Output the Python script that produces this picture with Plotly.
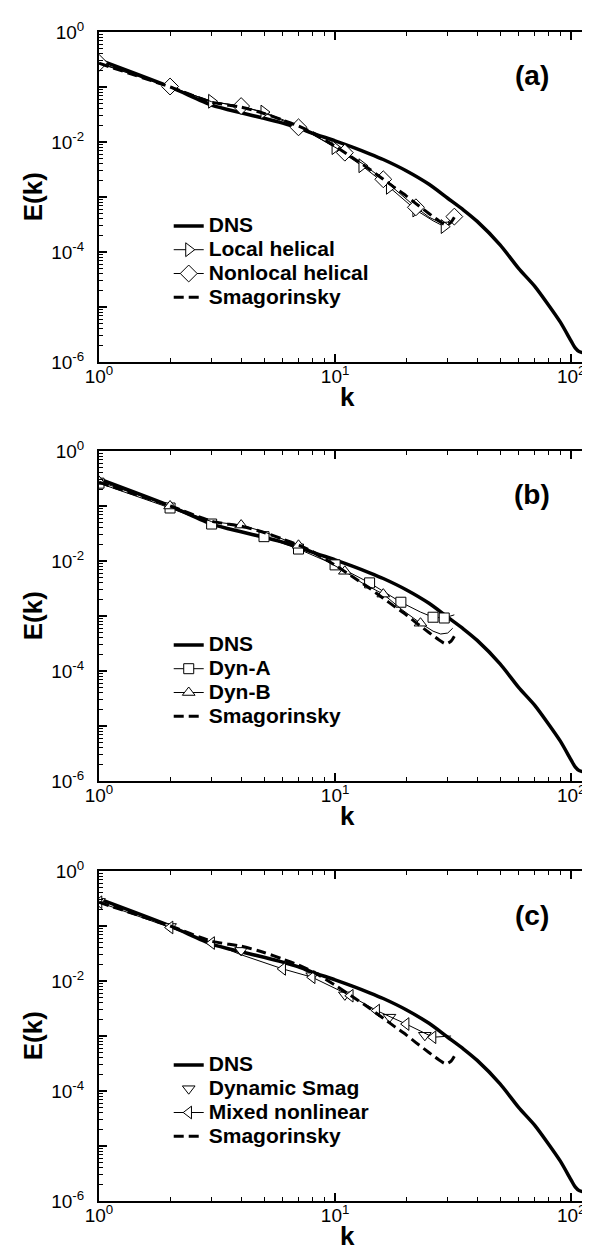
import plotly.graph_objects as go

# ---------------- data ----------------
k_dns = [1, 2, 3, 4, 5, 6, 7, 8, 10, 12, 14, 16, 20, 25, 30, 35, 40, 50, 60, 70, 80, 90,
         100, 104, 108, 112, 116, 120, 123, 126]
E_dns = [0.31, 0.10, 0.047, 0.034, 0.027, 0.022, 0.018, 0.0145, 0.0105, 0.0079, 0.0061,
         0.0048, 0.0030, 0.0017, 9.5e-4, 5.8e-4, 3.6e-4, 1.35e-4, 5.0e-5, 2.4e-5, 1.1e-5,
         5.3e-6, 2.4e-6, 1.8e-6, 1.55e-6, 1.5e-6, 1.8e-6, 2.7e-6, 3.8e-6, 5.6e-6]

k_smag = [1, 2, 3, 4, 5, 6, 7, 8, 10, 12, 14, 16, 18, 20, 22, 24, 26, 28, 29, 30, 31, 32]
E_smag = [0.27, 0.10, 0.053, 0.043, 0.033, 0.025, 0.0195, 0.0150, 0.0084, 0.0050, 0.0032,
          0.0021, 0.00145, 0.00105, 0.00076, 0.00057, 0.00044, 0.00035, 0.00032, 0.00032,
          0.00035, 0.00043]

# panel (a)
k_loc = [1, 2, 3, 4, 5, 7, 10, 13, 17, 22, 26, 29, 31]
E_loc = [0.27, 0.10, 0.055, 0.044, 0.035, 0.0195, 0.0079, 0.0037, 0.0015, 0.00058,
         0.00037, 0.00029, 0.00033]
mark_loc = [1, 3, 5, 10, 13, 17, 22, 29]

k_nl = [1, 2, 3, 4, 5, 7, 9, 11, 13, 16, 19, 22, 25, 28, 30, 32]
E_nl = [0.275, 0.102, 0.054, 0.045, 0.034, 0.0185, 0.0105, 0.0064, 0.0041, 0.0021,
        0.00112, 0.00065, 0.00043, 0.00034, 0.00035, 0.00044]
mark_nl = [1, 2, 4, 7, 11, 16, 22, 32]

# panel (b)
k_da = [1, 2, 3, 5, 7, 10, 14, 19, 23, 26, 29, 32]
E_da = [0.26, 0.092, 0.047, 0.0277, 0.0165, 0.0085, 0.0040, 0.00178, 0.00118, 0.00095,
        0.00092, 0.00105]
mark_da = [1, 2, 3, 5, 7, 10, 14, 19, 26, 29]

k_db = [1, 2, 3, 4, 5, 7, 9, 11, 13, 16, 19, 23, 26, 28, 30, 31.5]
E_db = [0.28, 0.10, 0.052, 0.045, 0.034, 0.0193, 0.0105, 0.0065, 0.0040, 0.0025, 0.00135,
        0.00074, 0.00053, 0.00047, 0.00049, 0.00060]
mark_db = [1, 2, 4, 7, 11, 16, 23]

# panel (c)
k_ds = [1, 2, 4, 8, 11, 17, 24]
E_ds = [0.28, 0.098, 0.036, 0.0125, 0.0056, 0.0022, 0.00103]
mark_ds = [1, 2, 4, 8, 11, 17, 24]

k_mx = [1, 2, 3, 4, 6, 8, 11.6, 15, 20, 26, 31]
E_mx = [0.27, 0.094, 0.049, 0.030, 0.0166, 0.0117, 0.0054, 0.0029, 0.00165, 0.00095, 0.0010]
mark_mx = [1, 2, 3, 6, 8, 11.6, 15, 20, 26]

x_major = [1, 10, 100]
x_major_text = ["10<sup>0</sup>", "10<sup>1</sup>", "10<sup>2</sup>"]
x_minor = [2, 3, 4, 5, 6, 7, 8, 9, 20, 30, 40, 50, 60, 70, 80, 90]
y_major = [1, 1e-1, 1e-2, 1e-3, 1e-4, 1e-5, 1e-6]
y_major_text = ["10<sup>0</sup>", " ", "10<sup>-2</sup>", " ", "10<sup>-4</sup>", " ",
                "10<sup>-6</sup>"]
y_minor = [m * 10.0 ** e for e in range(-6, 0) for m in range(2, 10)]

panel_labels = ["(a)", "(b)", "(c)"]
legend_names = [["DNS", "Local helical", "Nonlocal helical", "Smagorinsky"],
                ["DNS", "Dyn-A", "Dyn-B", "Smagorinsky"],
                ["DNS", "Dynamic Smag", "Mixed nonlinear", "Smagorinsky"]]

# ---------------- figure ----------------
FONT = "Liberation Sans, Arial, sans-serif"
W, H = 590, 1252
ML, MR, MT, MB = 91, 1, 24, 55
plot_w = W - ML - MR
plot_h = H - MT - MB


def pix_to_paper_y(py):
    return (H - MB - py) / plot_h


panel_tops = [24, 443, 863]
panel_h = 330
domains = [[pix_to_paper_y(t + panel_h), pix_to_paper_y(t)] for t in panel_tops]
domains[0][1] = 1.0

fig = go.Figure()


def axn(i):
    return "" if i == 0 else str(i + 1)


def lname(s):
    return '<span style="font-size:21px">%s</span>' % s


def add_dns(i, leg):
    fig.add_trace(go.Scatter(x=k_dns, y=E_dns, mode="lines", name=lname(legend_names[i][0]),
                             line=dict(color="black", width=3.5, shape="spline", smoothing=0.7),
                             xaxis="x" + axn(i), yaxis="y" + axn(i), legend=leg))


def add_smag(i, leg):
    fig.add_trace(go.Scatter(x=k_smag, y=E_smag, mode="lines", name=lname(legend_names[i][3]),
                             line=dict(color="black", width=3, dash="10px,5px", shape="spline",
                                       smoothing=0.6),
                             xaxis="x" + axn(i), yaxis="y" + axn(i), legend=leg))


def add_les(i, leg, k, E, marked, name, symbol, mode="lines+markers", s=11):
    fill = ["white" if kk in marked else "rgba(0,0,0,0)" for kk in k]
    edge = ["black" if kk in marked else "rgba(0,0,0,0)" for kk in k]
    fig.add_trace(go.Scatter(
        x=k, y=E, mode=mode, name=lname(name),
        line=dict(color="black", width=1),
        marker=dict(symbol=symbol, size=s, color=fill, line=dict(color=edge, width=1)),
        xaxis="x" + axn(i), yaxis="y" + axn(i), legend=leg))


# panel (a)
add_dns(0, "legend")
add_les(0, "legend", k_loc, E_loc, mark_loc, legend_names[0][1], "triangle-right", s=12)
add_les(0, "legend", k_nl, E_nl, mark_nl, legend_names[0][2], "diamond", s=13)
add_smag(0, "legend")
# panel (b)
add_dns(1, "legend2")
add_les(1, "legend2", k_da, E_da, mark_da, legend_names[1][1], "square", s=10)
add_les(1, "legend2", k_db, E_db, mark_db, legend_names[1][2], "triangle-up", s=11)
add_smag(1, "legend2")
# panel (c)
add_dns(2, "legend3")
add_les(2, "legend3", k_ds, E_ds, mark_ds, legend_names[2][1], "triangle-down", mode="markers",
        s=11)
add_les(2, "legend3", k_mx, E_mx, mark_mx, legend_names[2][2], "triangle-left", s=11)
add_smag(2, "legend3")

tickfont = dict(family=FONT, size=19, color="black")
layout = dict(width=W, height=H, autosize=False,
              margin=dict(l=ML, r=MR, t=MT, b=MB),
              paper_bgcolor="white", plot_bgcolor="white",
              font=dict(family=FONT, color="black"))

legend_x = (161 - ML) / plot_w
legend_tops = [t + 177 for t in panel_tops]
annotations = []
for i in range(3):
    sx = axn(i)
    layout["xaxis" + sx] = dict(
        type="log", range=[0, 2.101], domain=[0, 1], anchor="y" + sx,
        showline=True, linecolor="black", linewidth=2, mirror="ticks",
        ticks="inside", ticklen=8, tickwidth=1.5, tickcolor="black",
        tickmode="array", tickvals=x_major, ticktext=x_major_text,
        tickfont=tickfont, showgrid=False, zeroline=False, ticklabelstandoff=-4,
        minor=dict(tickmode="array", tickvals=x_minor, ticks="inside", ticklen=4,
                   tickwidth=1, tickcolor="black", showgrid=False))
    layout["yaxis" + sx] = dict(
        type="log", range=[-6, 0], domain=domains[i], anchor="x" + sx,
        showline=True, linecolor="black", linewidth=2, mirror="ticks",
        ticks="inside", ticklen=8, tickwidth=1.5, tickcolor="black",
        tickmode="array", tickvals=y_major, ticktext=y_major_text,
        tickfont=tickfont, showgrid=False, zeroline=False, ticklabelstandoff=9,
        minor=dict(tickmode="array", tickvals=y_minor, ticks="inside", ticklen=4,
                   tickwidth=1, tickcolor="black", showgrid=False))
    leg = "legend" + sx
    layout[leg] = dict(x=legend_x, y=pix_to_paper_y(legend_tops[i]), xanchor="left",
                       yanchor="top", bgcolor="rgba(0,0,0,0)", itemsizing="trace",
                       tracegroupgap=0,
                       font=dict(family=FONT, size=16, color="black", weight="bold"))
    annotations.append(dict(text="<b>%s</b>" % panel_labels[i], xref="x%s domain" % sx,
                            yref="y%s domain" % sx, x=(526 - ML) / plot_w, y=1 - 44 / panel_h,
                            xanchor="center", yanchor="middle", showarrow=False,
                            font=dict(family=FONT, size=28, color="black")))
    annotations.append(dict(text="<b>E(k)</b>", xref="paper", yref="y%s domain" % sx,
                            x=(25 - ML) / plot_w, y=0.5, textangle=-90, showarrow=False,
                            xanchor="center", yanchor="middle",
                            font=dict(family=FONT, size=26, color="black")))
    annotations.append(dict(text="<b>k</b>", xref="x%s domain" % sx, yref="y%s domain" % sx,
                            x=(341 - ML) / plot_w, y=-35 / panel_h, showarrow=False,
                            xanchor="center", yanchor="middle",
                            font=dict(family=FONT, size=26, color="black")))
layout["annotations"] = annotations
fig.update_layout(**layout)

fig.write_html("out.html")
